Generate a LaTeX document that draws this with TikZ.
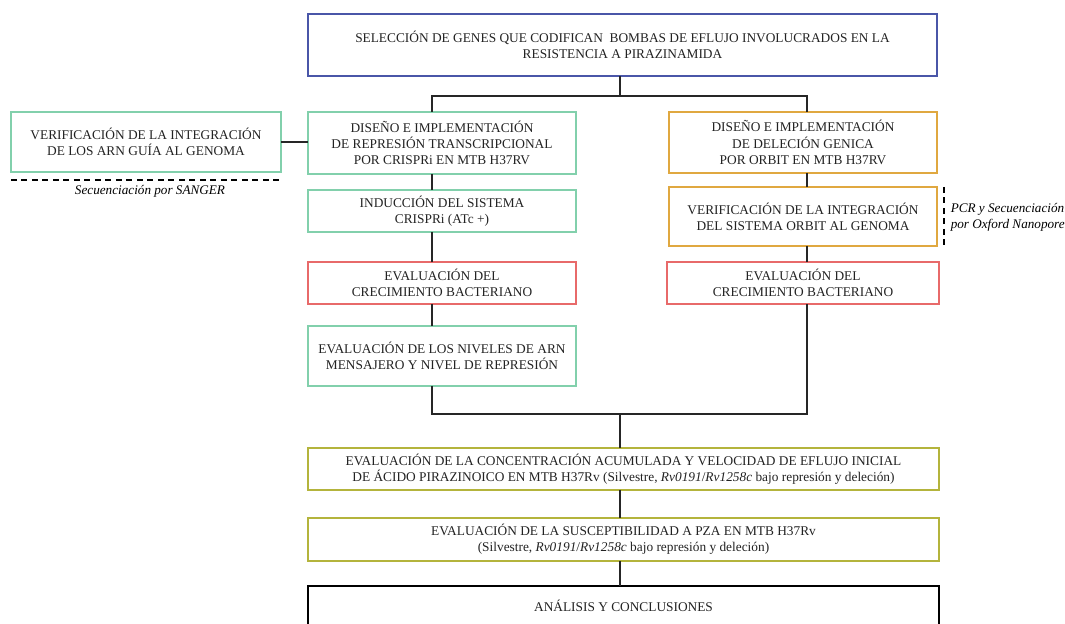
\documentclass[tikz,border=0pt]{standalone}
\usepackage{fontspec}
\setmainfont{Liberation Serif}
\usetikzlibrary{
    positioning,
    calc
}
\definecolor{azul}{HTML}{4A56A8}
\definecolor{verde}{HTML}{82D0AC}
\definecolor{naranja}{HTML}{E0A840}
\definecolor{rojo}{HTML}{E86A6A}
\definecolor{oliva}{HTML}{B4B43C}
\definecolor{texto}{HTML}{222222}
\tikzset{
    every picture/.style = {
        x = 0.02cm,
        y = -0.02cm,
        line width = 0.85pt
    },
    caja/.style = {
        draw,
        inner sep = 0pt,
        outer sep = 0pt,
        align = center,
        text = texto,
        font = \fontsize{7.6}{9.2}\selectfont
    },
    nota/.style = {
        inner sep = 0pt,
        text = black,
        font = \fontsize{7.5}{9.2}\selectfont\itshape
    },
    enlace/.style = {
        draw = black!85
    },
    guion/.style = {
        dash pattern = on 0.12cm off 0.09cm
    }
}

\begin{document}
\begin{tikzpicture}
    \path[use as bounding box, clip] (0,0) rectangle (1065,624);

    % seleccion
    \node[caja, draw = azul, minimum width = 12.58cm, minimum height = 1.24cm]
        (sel) at (622.5,45) {SELECCIÓN DE GENES QUE CODIFICAN\ \ BOMBAS DE EFLUJO INVOLUCRADOS EN LA\\ RESISTENCIA A PIRAZINAMIDA};

    % rama CRISPRi
    \node[caja, draw = verde, minimum width = 5.36cm, minimum height = 1.24cm]
        (crDis) at (442,143) {DISEÑO E IMPLEMENTACIÓN\\ DE REPRESIÓN TRANSCRIPCIONAL\\ POR CRISPRi EN MTB H37RV};
    \node[caja, draw = verde, minimum width = 5.36cm, minimum height = 0.84cm]
        (crInd) at (442,211) {INDUCCIÓN DEL SISTEMA\\ CRISPRi (ATc +)};
    \node[caja, draw = rojo, minimum width = 5.36cm, minimum height = 0.84cm]
        (crCrec) at (442,283) {EVALUACIÓN DEL\\ CRECIMIENTO BACTERIANO};
    \node[caja, draw = verde, minimum width = 5.36cm, minimum height = 1.2cm]
        (crArn) at (442,356) {EVALUACIÓN DE LOS NIVELES DE ARN\\ MENSAJERO Y NIVEL DE REPRESIÓN};
    \node[caja, draw = verde, minimum width = 5.4cm, minimum height = 1.2cm]
        (verArn) at (146,142) {VERIFICACIÓN DE LA INTEGRACIÓN\\ DE LOS ARN GUÍA AL GENOMA};

    % rama ORBIT
    \node[caja, draw = naranja, minimum width = 5.36cm, minimum height = 1.22cm]
        (orDis) at (803,142.5) {DISEÑO E IMPLEMENTACIÓN\\ DE DELECIÓN GENICA\\ POR ORBIT EN MTB H37RV};
    \node[caja, draw = naranja, minimum width = 5.36cm, minimum height = 1.18cm]
        (orVer) at (803,216.5) {VERIFICACIÓN DE LA INTEGRACIÓN\\ DEL SISTEMA ORBIT AL GENOMA};
    \node[caja, draw = rojo, minimum width = 5.44cm, minimum height = 0.84cm]
        (orCrec) at (803,283) {EVALUACIÓN DEL\\ CRECIMIENTO BACTERIANO};

    % evaluaciones finales
    \node[caja, draw = oliva, minimum width = 12.62cm, minimum height = 0.84cm]
        (evAcum) at (623.5,469) {EVALUACIÓN DE LA CONCENTRACIÓN ACUMULADA Y VELOCIDAD DE EFLUJO INICIAL\\ DE ÁCIDO PIRAZINOICO EN MTB H37Rv (Silvestre, \textit{Rv0191}/\textit{Rv1258c} bajo represión y deleción)};
    \node[caja, draw = oliva, minimum width = 12.62cm, minimum height = 0.86cm]
        (evSusc) at (623.5,539.5) {EVALUACIÓN DE LA SUSCEPTIBILIDAD A PZA EN MTB H37Rv\\ (Silvestre, \textit{Rv0191}/\textit{Rv1258c} bajo represión y deleción)};
    \node[caja, draw = black, minimum width = 12.62cm, minimum height = 1.4cm]
        (anal) at (623.5,621) {};
    \node[caja, draw = none, anchor = base] (analTxt) at (623.5,611) {ANÁLISIS Y CONCLUSIONES};

    % notas
    \coordinate (sgA) at (11,180);
    \coordinate (sgB) at (281,180);
    \draw[guion] (sgA) -- (sgB);
    \node[nota] (sanger) at (150,191) {Secuenciación por SANGER};
    \coordinate (nxA) at (944,187);
    \coordinate (nxB) at (944,247);
    \draw[guion] (nxA) -- (nxB);
    \node[nota, anchor = west, align = left] (nanop) at (950,217.5) {PCR y Secuenciación\\ por Oxford Nanopore};

    % conectores
    \coordinate (colI) at (432,0);
    \coordinate (colD) at (807,0);
    \coordinate (ramaSup) at (620,96);
    \coordinate (ramaInf) at (620,414);
    \draw[enlace] (sel.south -| ramaSup) -- (ramaSup);
    \draw[enlace] (ramaSup) -| (crDis.north -| colI);
    \draw[enlace] (ramaSup) -| (orDis.north -| colD);
    \draw[enlace] (verArn.east) -- (verArn.east -| crDis.west);
    \draw[enlace] (crDis.south -| colI) -- (crInd.north -| colI);
    \draw[enlace] (crInd.south -| colI) -- (crCrec.north -| colI);
    \draw[enlace] (crCrec.south -| colI) -- (crArn.north -| colI);
    \draw[enlace] (orDis.south -| colD) -- (orVer.north -| colD);
    \draw[enlace] (orVer.south -| colD) -- (orCrec.north -| colD);
    \draw[enlace] (crArn.south -| colI) |- (ramaInf) -| (orCrec.south -| colD);
    \draw[enlace] (ramaInf) -- (evAcum.north -| ramaInf);
    \draw[enlace] (evAcum.south -| ramaInf) -- (evSusc.north -| ramaInf);
    \draw[enlace] (evSusc.south -| ramaInf) -- (anal.north -| ramaInf);
\end{tikzpicture}
\end{document}
